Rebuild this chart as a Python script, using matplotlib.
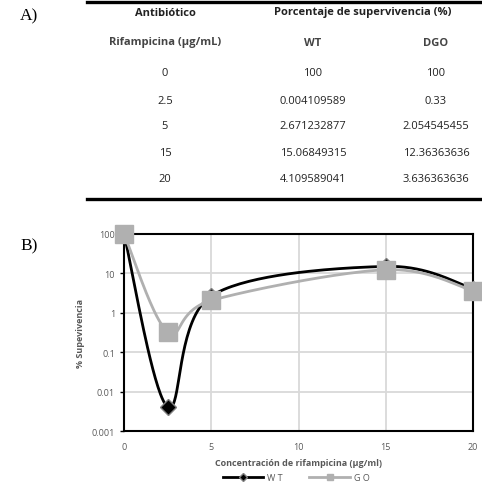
import numpy as np
import matplotlib.pyplot as plt
from matplotlib.lines import Line2D

# datos de la tabla
conc = [0, 2.5, 5, 15, 20]
conc_labels = ['0', '2.5', '5', '15', '20']
wt = [100, 0.004109589, 2.671232877, 15.06849315, 4.109589041]
dgo = [100, 0.33, 2.054545455, 12.36363636, 3.636363636]
wt_labels = ['100', '0.004109589', '2.671232877', '15.06849315', '4.109589041']
dgo_labels = ['100', '0.33', '2.054545455', '12.36363636', '3.636363636']


def smooth(xs, ys, sx, sy, n=40):
    # curva suavizada tipo Excel (Catmull-Rom / Bezier) en espacio x, log(y)
    px = np.array(xs, float) * sx
    py = np.log10(np.array(ys, float)) * sy
    P = np.column_stack([px, py])
    P = np.vstack([P[0], P, P[-1]])
    out = []
    for i in range(1, len(P) - 2):
        p0, p1, p2, p3 = P[i - 1], P[i], P[i + 1], P[i + 2]
        c1 = p1 + (p2 - p0) / 6
        c2 = p2 - (p3 - p1) / 6
        t = np.linspace(0, 1, n)[:, None]
        b = ((1 - t) ** 3) * p1 + 3 * ((1 - t) ** 2) * t * c1 + 3 * (1 - t) * t ** 2 * c2 + t ** 3 * p2
        out.append(b)
    out = np.vstack(out)
    return out[:, 0] / sx, 10 ** (out[:, 1] / sy)


fig = plt.figure(figsize=(4.82, 4.85), dpi=100)
W, H = 482, 485
tf = 'Open Sans'
tc = '#222222'
fs = 8

def fx(x):
    return x / W

def fy(y):
    return 1 - y / H

# --- Tabla A ---
fig.text(fx(20), fy(16), 'A)', family='Liberation Serif', fontsize=12.5, va='center', ha='left')
fig.add_artist(Line2D([fx(87), fx(482)], [fy(3), fy(3)], color='black', lw=2.4))
fig.add_artist(Line2D([fx(87), fx(482)], [fy(200), fy(200)], color='black', lw=2.4))
fig.text(fx(165), fy(13), 'Antibiótico', family=tf, fontsize=fs, weight='bold', ha='center', va='center', color=tc)
fig.text(fx(363), fy(13), 'Porcentaje de supervivencia (%)', family=tf, fontsize=fs, weight='bold', ha='center', va='center', color=tc)
fig.text(fx(165), fy(43), 'Rifampicina (µg/mL)', family=tf, fontsize=fs, weight='bold', ha='center', va='center', color='#444444')
fig.text(fx(313), fy(43), 'WT', family=tf, fontsize=fs, weight='bold', ha='center', va='center', color='#444444')
fig.text(fx(436), fy(43), 'DGO', family=tf, fontsize=fs, weight='bold', ha='center', va='center', color='#444444')
row_y = [74, 101, 127, 153, 180]
for i in range(len(conc)):
    fig.text(fx(165), fy(row_y[i]), conc_labels[i], family=tf, fontsize=fs, ha='center', va='center', color=tc)
    fig.text(fx(313), fy(row_y[i]), wt_labels[i], family=tf, fontsize=fs, ha='center', va='center', color=tc)
    fig.text(fx(436), fy(row_y[i]), dgo_labels[i], family=tf, fontsize=fs, ha='center', va='center', color=tc)

# --- Grafico B ---
fig.text(fx(20), fy(246), 'B)', family='Liberation Serif', fontsize=12.5, va='center', ha='left')
ax = fig.add_axes([fx(124), fy(432), (473 - 124) / W, (432 - 235) / H])
ax.set_yscale('log')
ax.set_xlim(0, 20)
ax.set_ylim(0.001, 100)
ax.set_xticks([0, 5, 10, 15, 20])
ax.set_yticks([0.001, 0.01, 0.1, 1, 10, 100])
ax.set_yticklabels(['0.001', '0.01', '0.1', '1', '10', '100'])
ax.minorticks_off()
ax.grid(True, color='#d9d9d9', lw=1.3)
ax.set_axisbelow(True)
for s in ax.spines.values():
    s.set_linewidth(1.5)
    s.set_color('black')
ax.tick_params(labelsize=6.5, labelcolor='#595959', length=3, width=1, color='black', direction='out')
for lab in ax.get_xticklabels() + ax.get_yticklabels():
    lab.set_family(tf)
ax.tick_params(axis='x', length=0, pad=8)

sx, sy = 349 / 20, 197 / 5
wx, wy = smooth(conc, wt, sx, sy)
ax.plot(wx, wy, color='black', lw=2, clip_on=False, zorder=3)
ax.plot(conc, wt, ls='none', marker='D', ms=8, mfc='black', mec='#808080', mew=1, clip_on=False, zorder=4)
gx, gy = smooth(conc, dgo, sx, sy)
ax.plot(gx, gy, color='#b0b0b0', lw=2, clip_on=False, zorder=5)
ax.plot(conc, dgo, ls='none', marker='s', ms=13, color='#b0b0b0', clip_on=False, zorder=6)

ax.set_ylabel('% Supevivencia', family=tf, fontsize=6.5, weight='bold', color='#595959', labelpad=5)
ax.set_xlabel('Concentración de rifampicina (µg/ml)', family=tf, fontsize=6.5, weight='bold', color='#595959', labelpad=5)

h1 = Line2D([], [], color='black', lw=2, marker='D', ms=4, mfc='black', mec='#808080')
h2 = Line2D([], [], color='#b0b0b0', lw=2, marker='s', ms=4.5)
leg = fig.legend([h1, h2], ['W T', 'G O'], loc='center', bbox_to_anchor=(fx(296), fy(479)), ncol=2,
                 frameon=False, fontsize=6.5, handlelength=4.5, columnspacing=3, handletextpad=0.4,
                 borderpad=0.1)
for t in leg.get_texts():
    t.set_color('#595959')
    t.set_family(tf)

fig.savefig('out.png', dpi=100)
